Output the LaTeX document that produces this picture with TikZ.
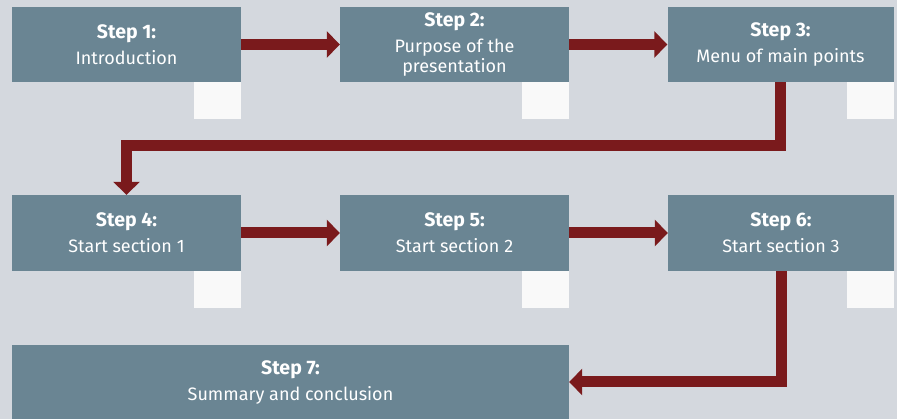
\documentclass[tikz,border=0pt]{standalone}
\usepackage{fontspec}
\setmainfont{Fira Sans}
\usepackage{tikz}
\usetikzlibrary{arrows.meta,positioning,calc}

\definecolor{pagegray}{RGB}{212,216,222}
\definecolor{slate}{RGB}{106,133,147}
\definecolor{darkred}{RGB}{122,26,28}
\newcommand{\stephead}[1]{{\fontsize{19.5}{20}\selectfont\bfseries #1}}

\begin{document}
\begin{tikzpicture}[x=1pt, y=-1pt, >={Triangle[length=13pt, width=26pt]},
    stepbox/.style={rectangle, fill=slate, text=white, minimum width=229pt, minimum height=75pt, inner sep=2pt, align=center, font=\fontsize{18}{20}\selectfont},
    tab/.style={rectangle, fill=white!95!gray, minimum width=47pt, minimum height=37pt, inner sep=0pt, anchor=north east},
    flow/.style={->, draw=darkred, line width=11pt}]
    \useasboundingbox (0,0) rectangle (897,419);
    \fill[pagegray] (0,0) rectangle (897,419);
    % First row
    \node[stepbox] (intro) at (126.5, 44.5) {\stephead{Step 1:}\\[6pt]Introduction};
    \node[stepbox] (purpose) at (454.5, 44.5) {\stephead{Step 2:}\\[6pt]Purpose of the\\presentation};
    \node[stepbox, minimum width=226pt] (menu) at (780.5, 44.5) {\stephead{Step 3:}\\[6pt]Menu of main points};
    % Second row
    \node[stepbox, minimum height=76pt] (sec1) at (126.5, 233) {\stephead{Step 4:}\\[6pt]Start section 1};
    \node[stepbox, minimum height=76pt] (sec2) at (454.5, 233) {\stephead{Step 5:}\\[6pt]Start section 2};
    \node[stepbox, minimum width=226pt, minimum height=76pt] (sec3) at (781, 233) {\stephead{Step 6:}\\[6pt]Start section 3};
    % Last row
    \node[stepbox, minimum width=557pt, minimum height=74pt] (summary) at (290.5, 382) {\stephead{Step 7:}\\[6pt]Summary and conclusion};
    % White tabs
    \node[tab] (intro-tab) at (intro.south east) {};
    \node[tab] (purpose-tab) at (purpose.south east) {};
    \node[tab] (menu-tab) at (menu.south east) {};
    \node[tab] (sec1-tab) at (sec1.south east) {};
    \node[tab] (sec2-tab) at (sec2.south east) {};
    \node[tab] (sec3-tab) at (sec3.south east) {};
    % Arrows
    \draw[flow] (intro) -- (purpose);
    \draw[flow] (purpose) -- (menu);
    \draw[flow] (menu.south) -- ++(0,63) -| (sec1.north);
    \draw[flow] (sec1) -- (sec2);
    \draw[flow] (sec2) -- (sec3);
    \draw[flow] (sec3.south) |- (summary.east);
\end{tikzpicture}
\end{document}
